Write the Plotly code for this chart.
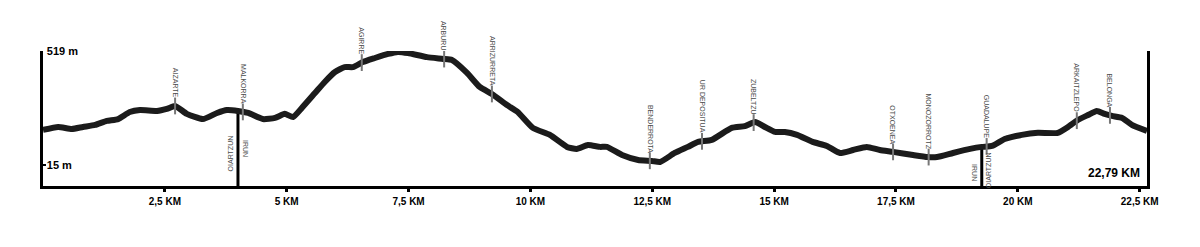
import numpy as np
import plotly.graph_objects as go

# ---------------- data ----------------
dist_km = [0.00, 0.31, 0.59, 0.82, 1.07, 1.31, 1.54, 1.78, 1.99, 2.34, 2.54, 2.71, 2.95, 3.28,
           3.57, 3.77, 4.00, 4.21, 4.51, 4.76, 4.96, 5.13, 5.31, 5.58, 5.78, 5.99, 6.19, 6.36,
           6.56, 6.81, 7.08, 7.28, 7.49, 7.88, 8.21, 8.39, 8.70, 8.96, 9.21, 9.52, 9.74, 10.05,
           10.40, 10.75, 10.95, 11.18, 11.43, 11.57, 11.88, 12.21, 12.49, 12.66, 12.96, 13.23,
           13.44, 13.72, 14.13, 14.40, 14.61, 14.81, 15.02, 15.22, 15.47, 15.79, 16.08, 16.35,
           16.62, 16.90, 17.17, 17.44, 17.85, 18.15, 18.34, 18.67, 19.02, 19.26, 19.47, 19.73,
           20.08, 20.41, 20.82, 21.03, 21.23, 21.44, 21.62, 21.78, 21.93, 22.14, 22.34, 22.65]
elev_m = [170, 183, 174, 183, 192, 210, 218, 249, 258, 254, 263, 276, 241, 218,
          245, 258, 254, 245, 218, 223, 241, 227, 267, 333, 382, 426, 448, 448,
          470, 488, 506, 515, 510, 492, 484, 479, 422, 360, 329, 280, 249, 179,
          148, 95, 86, 103, 95, 95, 59, 37, 33, 28, 68, 95,
          117, 126, 179, 187, 205, 183, 161, 161, 148, 117, 99, 68,
          81, 95, 81, 73, 59, 50, 50, 68, 86, 95, 99, 130,
          148, 157, 157, 183, 214, 236, 254, 241, 232, 223, 192, 165]

waypoint_names = ["AIZARTE", "MALKORRA", "AGIRRE", "ARBURU", "ARRIZURRETA", "BENDERROTA",
                  "UR DEPOSITUA", "ZUBELTZU", "OTXOENEA", "MONOZORROTZ", "GUADALUPE",
                  "ARKAITZLEPO", "BELONGA"]
waypoint_km = [2.71, 4.10, 6.54, 8.23, 9.21, 12.45, 13.52, 14.58, 17.44, 18.17, 19.36, 21.21, 21.89]

boundary_km = [4.00, 19.26]
boundary_left = ["OIARTZUN", "IRUN"]
boundary_right = ["IRUN", "OIARTZUN"]

x_tick_vals = [2.5, 5, 7.5, 10, 12.5, 15, 17.5, 20, 22.5]
x_tick_text = ["2,5 KM", "5 KM", "7,5 KM", "10 KM", "12,5 KM", "15 KM", "17,5 KM", "20 KM", "22,5 KM"]
y_tick_vals = [15, 519]
y_tick_text = ["15 m", "519 m"]
total_label = "22,79 KM"

# ---------------- figure ----------------
x_max = dist_km[-1]
y_min, y_max = -78, 519

fig = go.Figure()
fig.add_trace(go.Scatter(x=dist_km, y=elev_m, mode="lines",
                         line=dict(color="#1b1b1b", width=6, shape="spline", smoothing=0.5),
                         hoverinfo="skip", showlegend=False))

wp_elev = np.interp(waypoint_km, dist_km, elev_m)
fig.add_trace(go.Scatter(x=waypoint_km, y=wp_elev, mode="markers",
                         marker=dict(symbol="line-ns", size=12, line=dict(color="#777", width=2)),
                         hoverinfo="skip", showlegend=False))

label_font = dict(family="Liberation Sans Narrow, Liberation Sans, Arial", size=7, color="#4a4a4a")
for name, km, ev in zip(waypoint_names, waypoint_km, wp_elev):
    fig.add_annotation(x=km, y=ev, text=name, textangle=90, showarrow=False,
                       xanchor="center", yanchor="bottom", yshift=6, font=label_font)

b_elev = np.interp(boundary_km, dist_km, elev_m)
left_shift = [-22, -15]
right_shift = [-27, -3]
left_angle = [-90, 90]
right_angle = [90, -90]
for i, (km, ev) in enumerate(zip(boundary_km, b_elev)):
    fig.add_shape(type="line", x0=km, x1=km, y0=y_min, y1=ev,
                  line=dict(color="black", width=3), layer="below")
    fig.add_annotation(x=km, y=ev, text=boundary_left[i], textangle=left_angle[i], showarrow=False,
                       xanchor="right", yanchor="top", xshift=-2, yshift=left_shift[i],
                       font=label_font)
    fig.add_annotation(x=km, y=ev, text=boundary_right[i], textangle=right_angle[i], showarrow=False,
                       xanchor="left", yanchor="top", xshift=2, yshift=right_shift[i],
                       font=label_font)

fig.add_annotation(xref="paper", yref="paper", x=1, y=0, xanchor="right", yanchor="bottom",
                   xshift=-5, yshift=4, showarrow=False, text="<b>%s</b>" % total_label,
                   font=dict(family="Liberation Sans, Arial", size=12, color="black"))

fig.update_layout(
    width=1200, height=247,
    margin=dict(l=43, r=53, t=51, b=61),
    paper_bgcolor="white", plot_bgcolor="white",
    xaxis=dict(range=[0, x_max], showgrid=False, zeroline=False,
               showline=True, linecolor="black", linewidth=3,
               tickmode="array", tickvals=x_tick_vals,
               ticktext=["<b>%s</b>" % t for t in x_tick_text],
               ticks="outside", ticklen=3, tickwidth=3, tickcolor="black",
               ticklabelstandoff=1,
               tickfont=dict(family="Liberation Sans, Arial", size=10, color="black")),
    yaxis=dict(range=[y_min, y_max], showgrid=False, zeroline=False,
               showline=True, linecolor="black", linewidth=3, mirror=True,
               tickmode="array", tickvals=y_tick_vals,
               ticktext=["<b>%s</b>" % t for t in y_tick_text],
               ticks="inside", ticklen=3, tickwidth=2, tickcolor="black",
               ticklabelposition="inside", ticklabeloverflow="allow",
               tickfont=dict(family="Liberation Sans, Arial", size=11, color="black")),
)

fig.write_html("out.html")
